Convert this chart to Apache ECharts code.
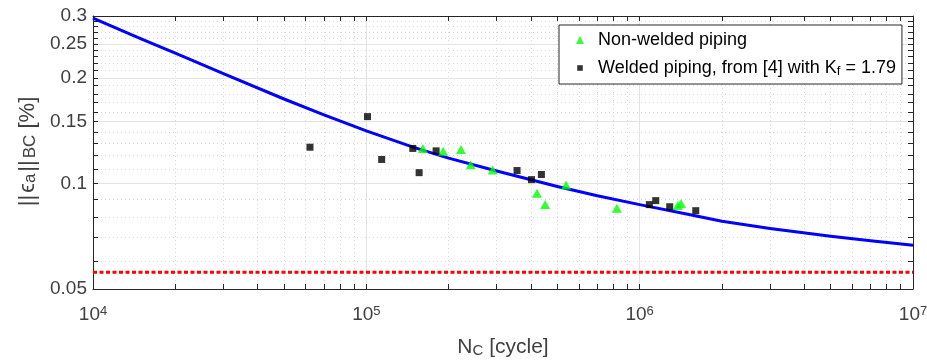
<!DOCTYPE html>
<html><head><meta charset="utf-8">
<script src="https://cdn.jsdelivr.net/npm/echarts@6/dist/echarts.min.js"></script>
<style>html,body{margin:0;padding:0;background:#fff}#c{width:927px;height:360px}</style>
</head><body><div id="c"></div>
<script>
// ---- data (raw values) ----
const xMajorTicks = [1e4, 1e5, 1e6, 1e7];
const xMinorTicks = [2e4, 3e4, 4e4, 5e4, 6e4, 7e4, 8e4, 9e4,
                     2e5, 3e5, 4e5, 5e5, 6e5, 7e5, 8e5, 9e5,
                     2e6, 3e6, 4e6, 5e6, 6e6, 7e6, 8e6, 9e6];
const yMajorTicks = [0.05, 0.1, 0.15, 0.2, 0.25, 0.3];
const yMinorTicks = [0.06, 0.07, 0.08, 0.09, 0.11, 0.12, 0.13, 0.14,
                     0.16, 0.17, 0.18, 0.19, 0.21, 0.22, 0.23, 0.24,
                     0.26, 0.27, 0.28, 0.29];

const curveN   = [1e4, 1.5e4, 2e4, 3e4, 5e4, 7e4, 1e5, 1.5e5, 2e5, 3e5, 5e5, 7e5,
                  1e6, 1.5e6, 2e6, 3e6, 5e6, 7e6, 1e7];
const curveEps = [0.296, 0.258, 0.235, 0.2056, 0.174, 0.1567, 0.1412, 0.1265, 0.118, 0.1085, 0.098, 0.0922,
                  0.087, 0.0817, 0.078, 0.0744, 0.0707, 0.0686, 0.0666];

const limitN   = [1e4, 1e7];
const limitEps = [0.0558, 0.0558];

const nonWeldedN   = [1.61e5, 1.91e5, 2.22e5, 2.41e5, 2.90e5, 4.21e5, 4.51e5, 5.38e5, 8.25e5, 1.378e6, 1.417e6];
const nonWeldedEps = [0.1258, 0.1235, 0.125, 0.1131, 0.1092, 0.0937, 0.0870, 0.0990, 0.0850, 0.0865, 0.0877];

const weldedN   = [6.22e4, 1.01e5, 1.138e5, 1.479e5, 1.56e5, 1.80e5, 3.56e5, 4.02e5, 4.37e5, 1.085e6, 1.145e6, 1.288e6, 1.604e6];
const weldedEps = [0.1268, 0.155, 0.117, 0.1258, 0.1073, 0.1238, 0.1088, 0.1025, 0.106, 0.0870, 0.0893, 0.0858, 0.0836];

// ---- build ----
const L = Math.log10;
const pts = (xs, ys) => xs.map((x, i) => [L(x), L(ys[i])]);
const FONT = '"Liberation Sans", Arial, Helvetica, sans-serif';
const AX = '#262626';
const TXT = '#404040';
const xMin = L(xMajorTicks[0]), xMax = L(xMajorTicks[xMajorTicks.length - 1]);
const yMin = L(yMajorTicks[0]), yMax = L(yMajorTicks[yMajorTicks.length - 1]);
const xAll = xMajorTicks.concat(xMinorTicks).map(L);
const yAll = yMajorTicks.concat(yMinorTicks).map(L);

function xAx(extra) {
  return Object.assign({type: 'value', min: xMin, max: xMax,
    axisLine: {show: false}, axisTick: {show: false}, axisLabel: {show: false},
    splitLine: {show: false}}, extra);
}
function yAx(extra) {
  return Object.assign({type: 'value', min: yMin, max: yMax,
    axisLine: {show: false}, axisTick: {show: false}, axisLabel: {show: false},
    splitLine: {show: false}}, extra);
}

const option = {
  animation: false,
  backgroundColor: '#fff',
  grid: {left: 93, right: 14, top: 16, bottom: 71, containLabel: false, outerBoundsMode: 'none'},
  xAxis: [
    xAx({position: 'bottom',
      axisLine: {show: true, lineStyle: {color: AX, width: 1}},
      axisTick: {show: true, inside: true, length: 5, customValues: xAll, lineStyle: {color: AX}},
      axisLabel: {show: true, customValues: xMajorTicks.map(L), margin: 16,
        formatter: v => '{b|10}{s|' + Math.round(v) + '}',
        rich: {
          b: {fontFamily: FONT, fontSize: 19, color: TXT, lineHeight: 20, verticalAlign: 'middle'},
          s: {fontFamily: FONT, fontSize: 13, color: TXT, lineHeight: 13, verticalAlign: 'top', padding: [0, 0, 15, 0]}
        }},
      name: '{b|N}{s|C}{b| [cycle]}', nameLocation: 'middle', nameGap: 47, nameMoveOverlap: false,
      nameTextStyle: {rich: {
        b: {fontFamily: FONT, fontSize: 21, color: TXT, lineHeight: 22, verticalAlign: 'middle'},
        s: {fontFamily: FONT, fontSize: 15, color: TXT, lineHeight: 15, verticalAlign: 'bottom', padding: [13, 0, 0, 0]}
      }}
    }),
    xAx({position: 'top',
      axisLine: {show: true, lineStyle: {color: AX, width: 1}},
      axisTick: {show: true, inside: true, length: 5, customValues: xAll, lineStyle: {color: AX}}}),
    xAx({axisTick: {show: false, customValues: xMajorTicks.map(L)},
      splitLine: {show: true, lineStyle: {color: '#e3e3e3', width: 1, type: 'solid'}}}),
    xAx({axisTick: {show: false, customValues: xMinorTicks.map(L)},
      splitLine: {show: true, lineStyle: {color: '#d9d9d9', width: 1, type: [1, 3]}}})
  ],
  yAxis: [
    yAx({position: 'left',
      axisLine: {show: true, lineStyle: {color: AX, width: 1}},
      axisTick: {show: true, inside: true, length: 5, customValues: yAll, lineStyle: {color: AX}},
      axisLabel: {show: true, customValues: yMajorTicks.map(L), margin: 6,
        fontFamily: FONT, fontSize: 19, color: TXT,
        formatter: v => String(Number(Math.pow(10, v).toPrecision(2)))},
      name: '{bar|||}{b|ϵ}{s|a}{bar|||}{s|BC}{b| [%]}', nameLocation: 'middle', nameGap: 54, nameRotate: 90,
      nameMoveOverlap: false,
      nameTextStyle: {rich: {
        bar: {fontFamily: FONT, fontSize: 22, color: TXT, lineHeight: 22, verticalAlign: 'middle', padding: [0, 2, 0, 2]},
        b: {fontFamily: FONT, fontSize: 22, color: TXT, lineHeight: 22, verticalAlign: 'middle'},
        s: {fontFamily: FONT, fontSize: 17, color: TXT, lineHeight: 17, verticalAlign: 'bottom', padding: [12, 0, 0, 0]}
      }}
    }),
    yAx({position: 'right',
      axisLine: {show: true, lineStyle: {color: AX, width: 1}},
      axisTick: {show: true, inside: true, length: 5, customValues: yAll, lineStyle: {color: AX}}}),
    yAx({axisTick: {show: false, customValues: yMajorTicks.map(L)},
      splitLine: {show: true, lineStyle: {color: '#e3e3e3', width: 1, type: 'solid'}}}),
    yAx({axisTick: {show: false, customValues: yMinorTicks.map(L)},
      splitLine: {show: true, lineStyle: {color: '#d9d9d9', width: 1, type: [1, 3]}}})
  ],
  legend: {
    left: 559, top: 25, orient: 'vertical',
    padding: [6, 6, 6, 17], itemGap: 4,
    itemWidth: 8, itemHeight: 8,
    borderColor: AX, borderWidth: 1, backgroundColor: '#fff',
    data: [
      {name: 'Non-welded piping'},
      {name: 'Welded piping, from [4] with K_f = 1.79', icon: 'path://M0,0M8,8M1.2,1.2H6.8V6.8H1.2Z'}
    ],
    formatter: n => n.indexOf('K_f') >= 0 ? '{b|Welded piping, from [4] with K}{s|f}{b| = 1.79}' : '{b|' + n + '}',
    textStyle: {padding: [0, 0, 0, 9], rich: {
      b: {fontFamily: FONT, fontSize: 18, color: '#000', lineHeight: 20, verticalAlign: 'middle'},
      s: {fontFamily: FONT, fontSize: 13, color: '#000', lineHeight: 12, verticalAlign: 'bottom', padding: [12, 0, 0, 0]}
    }}
  },
  series: [
    {name: 'curve', type: 'line', xAxisIndex: 0, yAxisIndex: 0, data: pts(curveN, curveEps),
      showSymbol: false, smooth: false,
      lineStyle: {color: '#0000ff', width: 3, join: 'round'}, z: 3},
    {name: 'limit', type: 'line', xAxisIndex: 0, yAxisIndex: 0, data: pts(limitN, limitEps),
      showSymbol: false, lineStyle: {color: '#ff0000', width: 3, type: [4, 2.5]}, z: 3},
    {name: 'Non-welded piping', type: 'scatter', xAxisIndex: 0, yAxisIndex: 0,
      data: pts(nonWeldedN, nonWeldedEps), symbol: 'triangle', symbolSize: [10, 9],
      itemStyle: {color: '#00ff00'}, z: 4},
    {name: 'Welded piping, from [4] with K_f = 1.79', type: 'scatter', xAxisIndex: 0, yAxisIndex: 0,
      data: pts(weldedN, weldedEps), symbol: 'rect', symbolSize: 7,
      itemStyle: {color: '#000000'}, z: 4}
  ]
};
const chart = echarts.init(document.getElementById('c'), null, {renderer: 'canvas'});
chart.setOption(option);
</script></body></html>
